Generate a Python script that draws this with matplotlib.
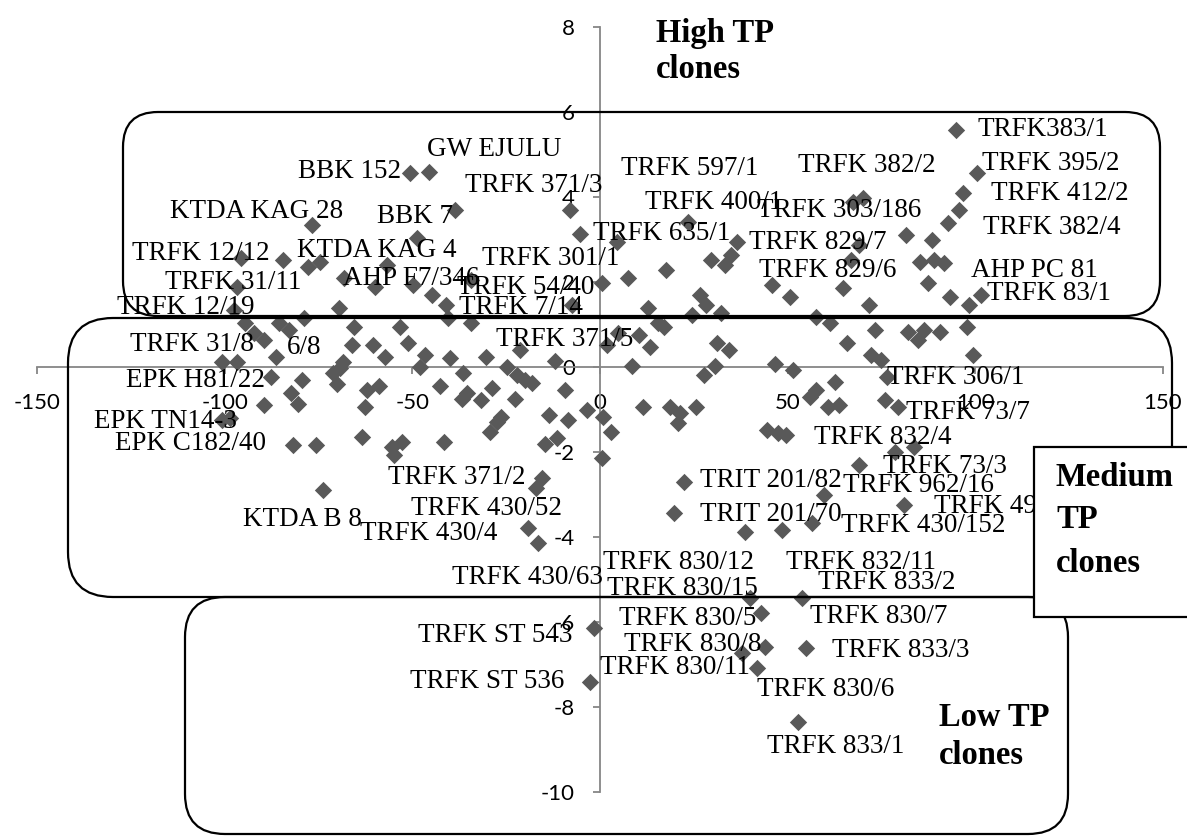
import matplotlib.pyplot as plt
from matplotlib.patches import FancyBboxPatch, Rectangle

plt.rcParams['axes.unicode_minus'] = False

# clone scores (x = PC1, y = PC2)
clone_x = [94.9, 100.4, 96.6, -50.6, -45.5, 70.0, 67.4, -38.6, -8.0, -76.7,
           23.5, -48.7, -5.3, 4.4, 36.5, 69.0, 81.5, 88.4, 92.7, 95.6,
           -95.6, -84.4, -77.8, -74.6, -56.8, -68.1, -59.9, -49.8, -44.7, -41.0,
           -34.4, -96.6, -97.6, -69.6, -7.5, 0.5, 7.5, 17.6, 29.6, 33.3,
           34.9, 26.6, 28.2, 32.2, 24.5, 12.8, 45.8, 50.6, 64.7, 71.6,
           85.2, 88.9, 91.6, 87.3, 93.2, 98.3, 101.5, 66.8,
           -94.5, -40.5, -34.4, -78.8, 57.5, 61.2, -92.1, -89.5, -85.5, -82.8,
           -86.4, -100.7, -96.6, -65.5, -66.0, -60.4, -57.3, -53.3, -51.2, -68.6,
           -71.1, -46.6, -47.9, -40.0, -42.6, -36.5, -30.4, -24.8, -22.1, -20.0,
           -18.1, -21.3, -12.0, -9.3, -28.8, -79.3, -87.6, -70.1, -62.0, -58.9,
           4.8, 1.8, 8.5, 15.4, 17.0, 10.4, 13.3, 31.2, 34.4, 30.6,
           27.6, 46.6, 51.4, 65.8, 73.2, 72.2, 74.8, 76.4, 82.0, 84.7,
           86.3, 90.5, 97.7, 99.3, 62.6, 55.9, 57.5, 60.7, 63.6, 75.9,
           79.4, 44.5, 47.4, 49.5, 78.6, 83.6, 69.0, 81.0, 22.4, 19.7,
           38.6, 48.5, 56.5, 59.7, 11.5, 18.6, 21.3, 20.8, 25.6, -3.5,
           0.8, 2.9, 0.4, -13.5, -8.5, -14.6, -11.5, -15.5, -17.0,
           -89.6, -82.2, -80.5, -62.6, -36.8, -31.7, -22.6, -27.4, -29.3, -26.4,
           -100.7, -98.5, -81.8, -75.6, -63.4, -55.4, -52.7, -54.9, -41.5, -73.8,
           -19.2, -16.5, -35.4, -69.2,
           -1.7, -2.7, 39.9, 42.9, 53.8, 43.9, 37.8, 41.8, 54.9, 52.7]
clone_y = [5.58, 4.56, 4.09, 4.56, 4.60, 3.98, 3.88, 3.69, 3.69, 3.34,
           3.41, 3.03, 3.12, 2.95, 2.95, 2.87, 3.10, 2.99, 3.39, 3.69,
           2.56, 2.52, 2.36, 2.47, 2.40, 2.09, 1.89, 1.93, 1.69, 1.46,
           2.05, 1.89, 1.34, 1.39, 1.46, 1.97, 2.09, 2.28, 2.52, 2.40,
           2.64, 1.69, 1.46, 1.27, 1.22, 1.39, 1.93, 1.65, 1.86, 1.46,
           2.47, 2.52, 2.45, 1.97, 1.65, 1.46, 1.69, 2.52,
           1.04, 1.15, 1.04, 1.15, 1.18, 1.04, 0.80, 0.64, 1.04, 0.87,
           0.24, 0.12, 0.12, 0.94, 0.52, 0.52, 0.24, 0.94, 0.56, 0.12,
           -0.14, 0.28, 0.0, 0.21, -0.44, -0.14, 0.24, 0.0, -0.19, -0.31,
           -0.38, 0.40, 0.15, -0.55, -0.50, -0.31, -0.24, -0.40, -0.55, -0.45,
           0.81, 0.52, 0.03, 1.04, 0.94, 0.75, 0.47, 0.56, 0.40, 0.03,
           -0.19, 0.07, -0.07, 0.56, 0.87, 0.28, 0.16, -0.24, 0.82, 0.64,
           0.87, 0.82, 0.94, 0.28, -0.35, -0.70, -0.54, -0.94, -0.89, -0.78,
           -0.94, -1.48, -1.55, -1.60, -2.00, -1.88, -2.31, -3.25, -2.71, -3.44,
           -3.88, -3.84, -3.67, -3.01, -0.95, -0.94, -1.08, -1.32, -0.94, -1.02,
           -1.18, -1.53, -2.14, -1.12, -1.25, -1.81, -1.67, -2.62, -2.85,
           -0.90, -0.60, -0.88, -0.94, -0.75, -0.78, -0.76, -1.29, -1.53, -1.18,
           -1.25, -1.20, -1.84, -1.84, -1.64, -1.88, -1.76, -2.07, -1.76, -2.89,
           -3.79, -4.14, -0.61, -0.02,
           -6.14, -7.40, -5.44, -5.79, -5.44, -6.59, -6.73, -7.08, -6.61, -8.35]

x_ticks = [-150, -100, -50, 0, 50, 100, 150]
y_ticks = [-10, -8, -6, -4, -2, 0, 2, 4, 6, 8]

label_names = ['TRFK383/1', 'TRFK 395/2', 'TRFK 412/2', 'TRFK 382/2', 'TRFK 597/1',
               'GW EJULU', 'BBK 152', 'TRFK 371/3', 'KTDA KAG 28', 'BBK 7',
               'TRFK 400/1', 'TRFK 303/186', 'TRFK 635/1', 'TRFK 382/4', 'TRFK 829/7',
               'TRFK 12/12', 'KTDA KAG 4', 'TRFK 301/1', 'TRFK 829/6', 'AHP PC 81',
               'TRFK 31/11', 'AHP F7/346', 'TRFK 54/40', 'TRFK 83/1', 'TRFK 12/19',
               'TRFK 7/14', 'TRFK 31/8', '6/8', 'TRFK 371/5', 'EPK H81/22',
               'TRFK 306/1', 'TRFK 73/7', 'EPK TN14-3', 'TRFK 832/4', 'EPK C182/40',
               'TRFK 73/3', 'TRFK 371/2', 'TRIT 201/82', 'TRFK 962/16', 'TRFK 430/52',
               'TRFK 49', 'KTDA B 8', 'TRFK 430/4', 'TRIT 201/70', 'TRFK 430/152',
               'TRFK 830/12', 'TRFK 832/11', 'TRFK 430/63', 'TRFK 830/15', 'TRFK 833/2',
               'TRFK 830/5', 'TRFK 830/7', 'TRFK ST 543', 'TRFK 830/8', 'TRFK 833/3',
               'TRFK 830/11', 'TRFK ST 536', 'TRFK 830/6', 'TRFK 833/1']

# where each data label sits (left edge, vertical centre), in data units
label_pos = [(100.7, 5.58), (101.7, 4.80), (104.1, 4.09), (52.7, 4.75), (5.6, 4.68),
             (-46.1, 5.11), (-80.4, 4.59), (-36.0, 4.28), (-114.5, 3.65), (-59.4, 3.53),
             (12.0, 3.86), (41.8, 3.69), (-1.9, 3.15), (102.0, 3.29), (39.7, 2.92),
             (-124.6, 2.66), (-80.7, 2.75), (-31.4, 2.56), (42.3, 2.28), (98.8, 2.28),
             (-115.8, 1.98), (-68.4, 2.09), (-38.1, 1.88), (103.1, 1.74), (-128.6, 1.41),
             (-37.5, 1.41), (-125.2, 0.52), (-83.4, 0.47), (-27.7, 0.64), (-126.2, -0.31),
             (76.4, -0.24), (81.5, -1.06), (-134.8, -1.29), (57.0, -1.65), (-129.2, -1.79),
             (75.4, -2.35), (-56.5, -2.61), (26.6, -2.66), (64.7, -2.78), (-50.3, -3.32),
             (88.9, -3.29), (-95.1, -3.60), (-63.9, -3.91), (26.6, -3.48), (64.2, -3.72),
             (0.8, -4.61), (49.5, -4.59), (-39.4, -4.96), (1.9, -5.22), (58.1, -5.06),
             (5.1, -5.91), (55.9, -5.88), (-48.5, -6.31), (6.4, -6.54), (61.8, -6.66),
             (0.0, -7.08), (-50.6, -7.41), (41.8, -7.60), (44.5, -8.94)]

W, H = 1187, 836
fig = plt.figure(figsize=(W / 100, H / 100), dpi=100)
ax = fig.add_axes([37 / W, 44 / H, 1126 / W, 765 / H])
ax.patch.set_visible(False)

ax.scatter(clone_x, clone_y, marker='D', s=78, color='#595959', linewidths=0, zorder=3)

for name, (lx, ly) in zip(label_names, label_pos):
    ax.text(lx, ly, name, fontsize=19.5, family='Liberation Serif', va='center',
            ha='left', zorder=4)

ax.set_xlim(-150, 150)
ax.set_ylim(-10, 8)
for s in ['top', 'right']:
    ax.spines[s].set_visible(False)
for s in ['left', 'bottom']:
    ax.spines[s].set_position(('data', 0))
    ax.spines[s].set_color('#868686')
    ax.spines[s].set_linewidth(1.3)
ax.set_xticks(x_ticks)
ax.set_yticks(y_ticks)
ax.tick_params(colors='#868686', labelcolor='black', length=5, width=1.3, labelsize=16)
ax.tick_params(axis='x', pad=14)
ax.tick_params(axis='y', pad=13)
for lab in ax.get_xticklabels() + ax.get_yticklabels():
    lab.set_fontfamily('Lato')


# group boxes drawn in pixel space (from top-left corner of the image)
def group_box(l, t, r, b, rad, z=2):
    p = FancyBboxPatch((l / 100, (H - b) / 100), (r - l) / 100, (b - t) / 100,
                       boxstyle=f"round,pad=0,rounding_size={rad / 100}",
                       transform=fig.dpi_scale_trans, fill=False,
                       edgecolor='black', lw=1.6, zorder=z)
    fig.add_artist(p)


group_box(123, 112, 1160, 316, 35)
group_box(68, 318, 1172, 597, 45)
group_box(185, 597, 1068, 834, 40)

rect = Rectangle((1034 / 100, (H - 617) / 100), 1.8, 1.70, transform=fig.dpi_scale_trans,
                 facecolor='white', edgecolor='black', lw=1.6, zorder=3)
fig.add_artist(rect)


def group_text(x, y, s):
    fig.text(x / 100, (H - y) / 100, s, transform=fig.dpi_scale_trans,
             family='Liberation Serif', fontweight='bold', fontsize=23.5,
             va='center', ha='left', zorder=5)


group_text(656, 33, 'High TP')
group_text(656, 69, 'clones')
group_text(1056, 478, 'Medium')
group_text(1056, 520, 'TP')
group_text(1056, 563, 'clones')
group_text(939, 717, 'Low TP')
group_text(939, 755, 'clones')

fig.savefig('out.png', dpi=100)
